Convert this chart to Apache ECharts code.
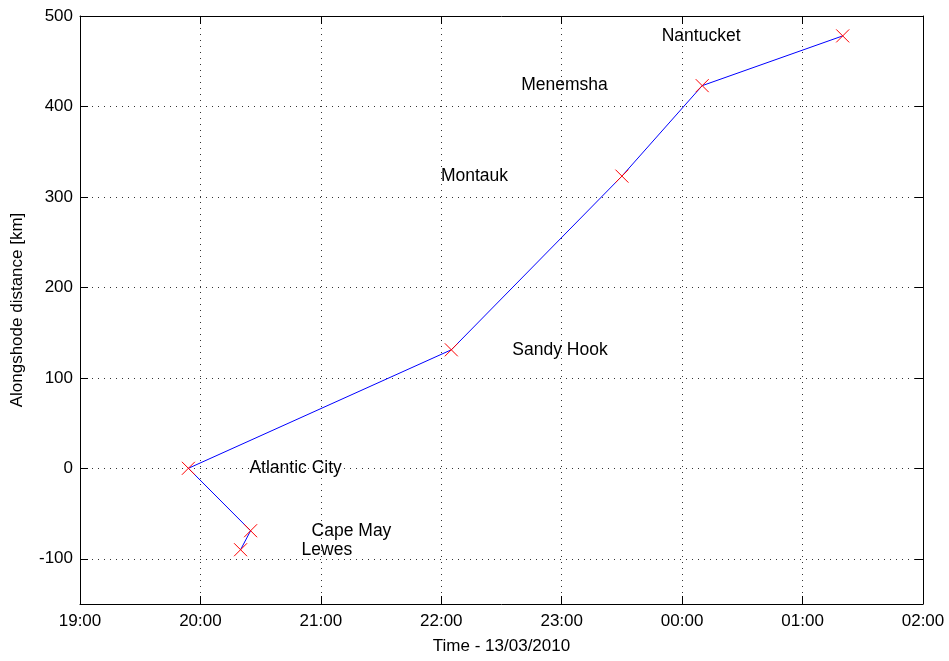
<!DOCTYPE html>
<html>
<head>
<meta charset="utf-8">
<script src="https://cdn.jsdelivr.net/npm/echarts@6/dist/echarts.min.js"></script>
<style>
  html, body { margin: 0; padding: 0; background: #fff; }
  #chart { width: 949px; height: 661px; }
</style>
</head>
<body>
<div id="chart"></div>
<script>
// ---- data ----
const stations = ["Lewes", "Cape May", "Atlantic City", "Sandy Hook", "Montauk", "Menemsha", "Nantucket"];
// passage times on 13/03/2010 (times after midnight belong to the next day)
const passTimes = ["20:20", "20:25", "19:54", "22:05", "23:30", "00:10", "01:20"];
const distancesKm = [-90, -69, 0, 131, 323, 423, 478];
const xTickLabels = ["19:00", "20:00", "21:00", "22:00", "23:00", "00:00", "01:00", "02:00"];
const yTickValues = [-100, 0, 100, 200, 300, 400, 500];

// convert "HH:MM" into hours since 00:00 of 13/03 (continuing past midnight)
function toHours(s) {
  const [h, m] = s.split(":").map(Number);
  let v = h + m / 60;
  if (v < 12) v += 24;
  return v;
}

const FONT = "'Liberation Sans', Arial, Helvetica, sans-serif";
const northLabels = ["Montauk", "Menemsha", "Nantucket"];

const lineData = stations.map((name, i) => ({
  name: name,
  value: [toHours(passTimes[i]), distancesKm[i]],
  label: {
    show: true,
    position: "inside",
    align: "left",
    verticalAlign: "middle",
    offset: northLabels.includes(name) ? [-181, 0] : [61, 0],
    formatter: "{b}",
    color: "#000",
    fontSize: 17.5,
    fontFamily: FONT
  }
}));

const chart = echarts.init(document.getElementById("chart"), null, { renderer: "canvas" });

const axisLineStyle = { show: true, onZero: false, lineStyle: { color: "#000", width: 1 } };
const tickStyle = { show: true, inside: true, length: 8, lineStyle: { color: "#000", width: 1 } };
const gridStyle = { show: true, lineStyle: { color: "#333", width: 1, type: [1, 5] } };

chart.setOption({
  animation: false,
  backgroundColor: "#fff",
  grid: { left: 80, right: 26, top: 16, bottom: 57, containLabel: false, show: false },
  xAxis: [
    {
      type: "value",
      min: 19, max: 26, interval: 1,
      position: "bottom",
      name: "Time - 13/03/2010",
      nameLocation: "middle",
      nameGap: 34,
      nameTextStyle: { color: "#000", fontSize: 17, fontFamily: FONT },
      axisLine: axisLineStyle,
      axisTick: tickStyle,
      splitLine: gridStyle,
      axisLabel: {
        color: "#000", fontSize: 17, fontFamily: FONT, margin: 9,
        formatter: v => xTickLabels[Math.round(v - 19)] || ""
      }
    },
    {
      type: "value",
      min: 19, max: 26, interval: 1,
      position: "top",
      axisLine: axisLineStyle,
      axisTick: tickStyle,
      splitLine: { show: false },
      axisLabel: { show: false }
    }
  ],
  yAxis: [
    {
      type: "value",
      min: -150, max: 500, splitNumber: 6,
      position: "left",
      name: "Alongshode distance [km]",
      nameLocation: "middle",
      nameGap: 54,
      nameRotate: 90,
      nameTextStyle: { color: "#000", fontSize: 17, fontFamily: FONT },
      axisLine: axisLineStyle,
      axisTick: tickStyle,
      splitLine: gridStyle,
      axisLabel: {
        color: "#000", fontSize: 17, fontFamily: FONT, margin: 7,
        formatter: v => yTickValues.includes(v) ? String(v) : ""
      }
    },
    {
      type: "value",
      min: -150, max: 500, splitNumber: 6,
      position: "right",
      axisLine: axisLineStyle,
      axisTick: tickStyle,
      splitLine: { show: false },
      axisLabel: { show: false }
    }
  ],
  series: [
    {
      type: "line",
      xAxisIndex: 0,
      yAxisIndex: 0,
      data: lineData,
      showAllSymbol: true,
      symbol: "path://M0,0L10,10M0,10L10,0",
      symbolSize: 13,
      lineStyle: { color: "#0000ff", width: 1 },
      itemStyle: { color: "rgba(0,0,0,0)", borderColor: "#ff0000", borderWidth: 1 },
      emphasis: { disabled: true },
      z: 3
    }
  ]
});
</script>
</body>
</html>
